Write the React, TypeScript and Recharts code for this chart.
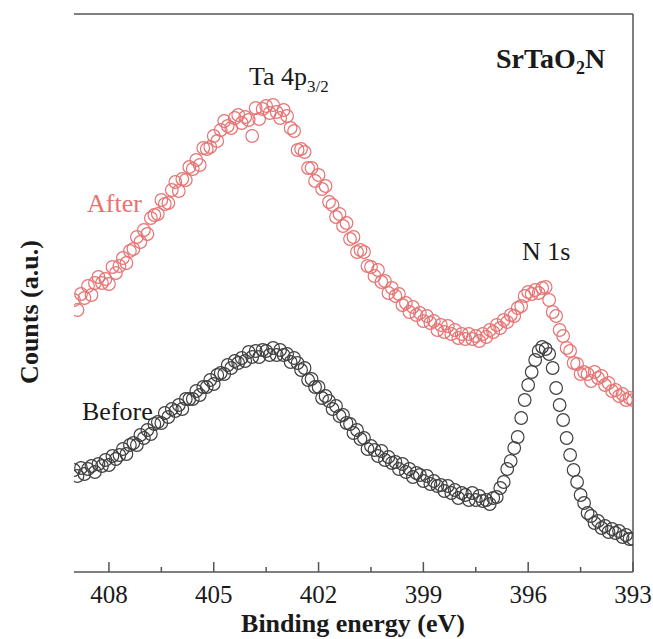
import { ScatterChart, Scatter, XAxis, YAxis, ReferenceLine, Customized } from 'recharts';

// XPS survey around Ta 4p3/2 / N 1s, SrTaO2N before and after reaction
// binding energies sampled every 0.1 eV (409.0 -> 393.0)
const energies = [
  409.0, 408.9, 408.8, 408.7, 408.6, 408.5, 408.4, 408.3, 408.2, 408.1,
  408.0, 407.9, 407.8, 407.7, 407.6, 407.5, 407.4, 407.3, 407.2, 407.1,
  407.0, 406.9, 406.8, 406.7, 406.6, 406.5, 406.4, 406.3, 406.2, 406.1,
  406.0, 405.9, 405.8, 405.7, 405.6, 405.5, 405.4, 405.3, 405.2, 405.1,
  405.0, 404.9, 404.8, 404.7, 404.6, 404.5, 404.4, 404.3, 404.2, 404.1,
  404.0, 403.9, 403.8, 403.7, 403.6, 403.5, 403.4, 403.3, 403.2, 403.1,
  403.0, 402.9, 402.8, 402.7, 402.6, 402.5, 402.4, 402.3, 402.2, 402.1,
  402.0, 401.9, 401.8, 401.7, 401.6, 401.5, 401.4, 401.3, 401.2, 401.1,
  401.0, 400.9, 400.8, 400.7, 400.6, 400.5, 400.4, 400.3, 400.2, 400.1,
  400.0, 399.9, 399.8, 399.7, 399.6, 399.5, 399.4, 399.3, 399.2, 399.1,
  399.0, 398.9, 398.8, 398.7, 398.6, 398.5, 398.4, 398.3, 398.2, 398.1,
  398.0, 397.9, 397.8, 397.7, 397.6, 397.5, 397.4, 397.3, 397.2, 397.1,
  397.0, 396.9, 396.8, 396.7, 396.6, 396.5, 396.4, 396.3, 396.2, 396.1,
  396.0, 395.9, 395.8, 395.7, 395.6, 395.5, 395.4, 395.3, 395.2, 395.1,
  395.0, 394.9, 394.8, 394.7, 394.6, 394.5, 394.4, 394.3, 394.2, 394.1,
  394.0, 393.9, 393.8, 393.7, 393.6, 393.5, 393.4, 393.3, 393.2, 393.1,
  393.0,
];

const afterCounts = [
  272, 262, 278, 274, 286, 277, 289, 295, 289, 293,
  288, 305, 299, 306, 314, 309, 321, 323, 335, 330,
  342, 338, 354, 357, 358, 372, 368, 369, 382, 390,
  381, 393, 392, 405, 403, 412, 407, 424, 423, 425,
  436, 431, 442, 451, 446, 444, 454, 457, 449, 455,
  452, 436, 464, 453, 463, 466, 459, 467, 460, 454,
  462, 456, 444, 441, 422, 423, 420, 404, 404, 391,
  397, 383, 386, 370, 367, 355, 358, 346, 349, 333,
  335, 320, 322, 320, 306, 305, 296, 302, 290, 291,
  279, 284, 276, 278, 267, 269, 260, 265, 257, 259,
  251, 256, 249, 251, 242, 247, 240, 246, 238, 242,
  234, 238, 233, 238, 233, 236, 231, 238, 235, 242,
  240, 247, 244, 252, 250, 257, 256, 264, 266, 276,
  280, 278, 282, 279, 284, 285, 272, 260, 256, 242,
  236, 224, 221, 209, 208, 198, 200, 198, 191, 200,
  194, 196, 187, 189, 181, 182, 176, 178, 172, 174,
  172,
];

const beforeCounts = [
  102, 96, 104, 98, 103, 106, 100, 108, 106, 112,
  107, 116, 113, 117, 123, 118, 127, 129, 127, 137,
  134, 142, 138, 148, 150, 149, 159, 155, 163, 161,
  167, 163, 173, 173, 173, 181, 177, 185, 185, 192,
  188, 197, 199, 198, 207, 204, 211, 209, 214, 211,
  220, 215, 221, 215, 222, 221, 217, 224, 217, 222,
  217, 218, 210, 214, 209, 202, 204, 192, 193, 185,
  185, 174, 176, 171, 163, 166, 156, 157, 149, 148,
  139, 142, 133, 134, 123, 126, 122, 116, 121, 112,
  115, 109, 110, 103, 108, 100, 103, 95, 99, 97,
  91, 96, 88, 91, 86, 87, 81, 86, 79, 82,
  74, 79, 77, 72, 79, 72, 76, 71, 72, 68,
  74, 75, 84, 90, 103, 111, 124, 135, 154, 172,
  187, 200, 212, 221, 225, 223, 218, 204, 184, 167,
  152, 134, 117, 102, 90, 77, 69, 59, 56, 49,
  51, 44, 46, 40, 43, 39, 41, 35, 37, 33,
  33,
];

const majorTicks = [408, 405, 402, 399, 396, 393];
const minorTicks = [406.5, 403.5, 400.5, 397.5, 394.5];
const energyDomain = [393, 409];
const countsDomain = [0, 558];

const FONT = '"Liberation Serif", "Times New Roman", serif';
const AFTER_COLOR = '#e77373';
const BEFORE_COLOR = '#404040';
const AXIS_COLOR = '#555';
const TEXT_COLOR = '#1a1a1a';

const afterData = energies.map((energy, i) => ({ energy, counts: afterCounts[i] }));
const beforeData = energies.map((energy, i) => ({ energy, counts: beforeCounts[i] }));

function EnergyTick(props: any) {
  const { x, y, payload } = props;
  const isMajor = majorTicks.includes(payload.value);
  return (
    <g>
      <line
        x1={x}
        x2={x}
        y1={y}
        y2={y - (isMajor ? 10 : 5)}
        stroke={AXIS_COLOR}
        strokeWidth={1.5}
      />
      {isMajor && (
        <text x={x} y={y + 31} textAnchor="middle" fontSize={25} fontFamily={FONT} fill={TEXT_COLOR}>
          {payload.value}
        </text>
      )}
    </g>
  );
}

const openCircle = (color: string) => (props: any) => (
  <circle cx={props.cx} cy={props.cy} r={6.3} fill="none" stroke={color} strokeWidth={1.2} />
);

function Annotations() {
  return (
    <g fontFamily={FONT}>
      <text x={496} y={68} fontSize={28} fontWeight="bold" fill={TEXT_COLOR}>
        <tspan>SrTaO</tspan>
        <tspan fontSize={18} dy={6}>2</tspan>
        <tspan dy={-6}>N</tspan>
      </text>
      <text x={249} y={85} fontSize={26} fill={TEXT_COLOR}>
        <tspan>Ta 4p</tspan>
        <tspan fontSize={17} dy={7}>3/2</tspan>
      </text>
      <text x={522} y={260} fontSize={26} fill={TEXT_COLOR}>N 1s</text>
      <text x={87} y={212} fontSize={26} fill={AFTER_COLOR}>After</text>
      <text x={82} y={420} fontSize={26} fill={TEXT_COLOR}>Before</text>
      <text x={353} y={632} fontSize={26} fontWeight="bold" textAnchor="middle" fill={TEXT_COLOR}>
        Binding energy (eV)
      </text>
      <text
        x={29}
        y={312}
        fontSize={26}
        fontWeight="bold"
        textAnchor="middle"
        dominantBaseline="central"
        transform="rotate(-90 29 312)"
        fill={TEXT_COLOR}
      >
        Counts (a.u.)
      </text>
    </g>
  );
}

export default function App() {
  const axisLine = { stroke: AXIS_COLOR, strokeWidth: 1.5 };
  return (
    <div style={{ position: 'absolute', left: 0, top: 0, width: 653, height: 639, background: '#fff' }}>
      <ScatterChart width={653} height={639} margin={{ top: 14, right: 20, bottom: 0, left: 74 }}>
        <XAxis
          type="number"
          dataKey="energy"
          domain={energyDomain}
          reversed
          allowDataOverflow
          ticks={[...majorTicks, ...minorTicks].sort((a, b) => b - a)}
          interval={0}
          tick={<EnergyTick />}
          tickLine={false}
          tickSize={0}
          tickMargin={0}
          height={67}
          axisLine={axisLine}
        />
        <YAxis
          type="number"
          dataKey="counts"
          domain={countsDomain}
          allowDataOverflow
          tick={false}
          tickLine={false}
          width={0}
          axisLine={axisLine}
        />
        {/* top and right frame lines */}
        <ReferenceLine y={countsDomain[1]} stroke={AXIS_COLOR} strokeWidth={1.5} />
        <ReferenceLine x={energyDomain[0]} stroke={AXIS_COLOR} strokeWidth={1.5} />
        <Scatter data={afterData} shape={openCircle(AFTER_COLOR)} isAnimationActive={false} />
        <Scatter data={beforeData} shape={openCircle(BEFORE_COLOR)} isAnimationActive={false} />
        <Customized component={Annotations} />
      </ScatterChart>
    </div>
  );
}
